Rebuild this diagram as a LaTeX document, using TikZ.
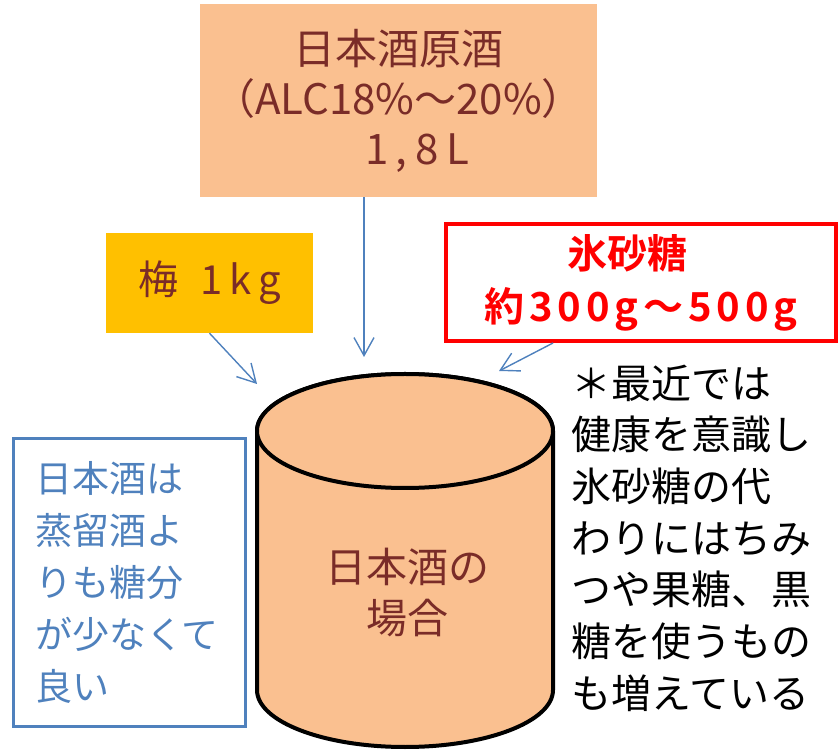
\documentclass[tikz,border=0pt]{standalone}
\usepackage{fontspec}
\setmainfont{Noto Sans CJK JP}[BoldFont={Noto Sans CJK JP Bold}]
\newfontfamily\widefont{Noto Sans CJK JP}[LetterSpace=18,BoldFont={Noto Sans CJK JP Bold}]
\newfontfamily\sugarfont{Noto Sans CJK JP}[LetterSpace=12,BoldFont={Noto Sans CJK JP Bold}]
\usetikzlibrary{arrows.meta}
\definecolor{sakeorange}{HTML}{FAC090}
\definecolor{sakebrown}{RGB}{122,44,40}
\definecolor{umegold}{HTML}{FFC000}
\definecolor{noteblue}{HTML}{4F81BD}
\definecolor{sugarred}{HTML}{FF0000}

\begin{document}
\begin{tikzpicture}[x=1pt, y=1pt,
    arrow/.style={-{Straight Barb[length=18pt,width=20pt]}, line width=1.4pt, noteblue},
    barrel/.style={line width=4pt, line join=round}]
    \useasboundingbox (0,0) rectangle (838,750);

    % Genshu
    \node[fill=sakeorange, minimum width=397pt, minimum height=193pt, align=center, text=sakebrown, font=\fontsize{42}{50}\selectfont] (genshu) at (398.5,649.5) {日本酒原酒\\（ALC18\%～20\%）\\\hspace*{37pt}{\widefont 1,8L}};

    % Ume
    \node[fill=umegold, minimum width=207pt, minimum height=100pt, text=sakebrown, font=\fontsize{40}{48}\selectfont\widefont] (ume) at (209.5,467) {梅\hspace{22pt}1kg};

    % Hizatou
    \node[draw=sugarred, line width=4pt, minimum width=390pt, minimum height=117pt, align=center, text=sugarred, font=\fontsize{40}{53}\selectfont\bfseries] (sato) at (641,467.5) {\hspace*{-28pt}氷砂糖\\{\sugarfont 約300g～500g}};

    % Barrel
    \filldraw[barrel, fill=sakeorange] (257,319) -- (257,60) arc[start angle=180, end angle=360, x radius=148, y radius=57] -- (553,319) arc[start angle=0, end angle=180, x radius=148, y radius=57] -- cycle;
    \draw[barrel, fill=sakeorange] (405,319) ellipse[x radius=148, y radius=57];
    \node[text=sakebrown, align=center, font=\fontsize{41}{51}\selectfont] (sakecase) at (407,157.5) {日本酒の\\場合};

    % Arrows
    \coordinate (genshuend) at (364,393);
    \coordinate (umeend) at (257,366);
    \coordinate (satoend) at (499,379);
    \draw[arrow] ([xshift=-34.5pt]genshu.south) -- (genshuend);
    \draw[arrow] (ume.south) -- (umeend);
    \draw[arrow] ([xshift=-88pt]sato.south) -- (satoend);

    % Notes
    \node[draw=noteblue, line width=3pt, text width=189pt, inner xsep=21.5pt, minimum height=288pt, align=left, text=noteblue, font=\fontsize{37}{52}\selectfont] (lesssugar) at (129.5,167.5) {日本酒は\\蒸留酒よ\\りも糖分\\が少なくて\\良い};
    \node[anchor=west, inner sep=0pt, align=left, font=\fontsize{40}{51.7}\selectfont] (recent) at (571,212) {＊最近では\\健康を意識し\\氷砂糖の代\\わりにはちみ\\つや果糖、黒\\糖を使うもの\\も増えている};
\end{tikzpicture}
\end{document}
